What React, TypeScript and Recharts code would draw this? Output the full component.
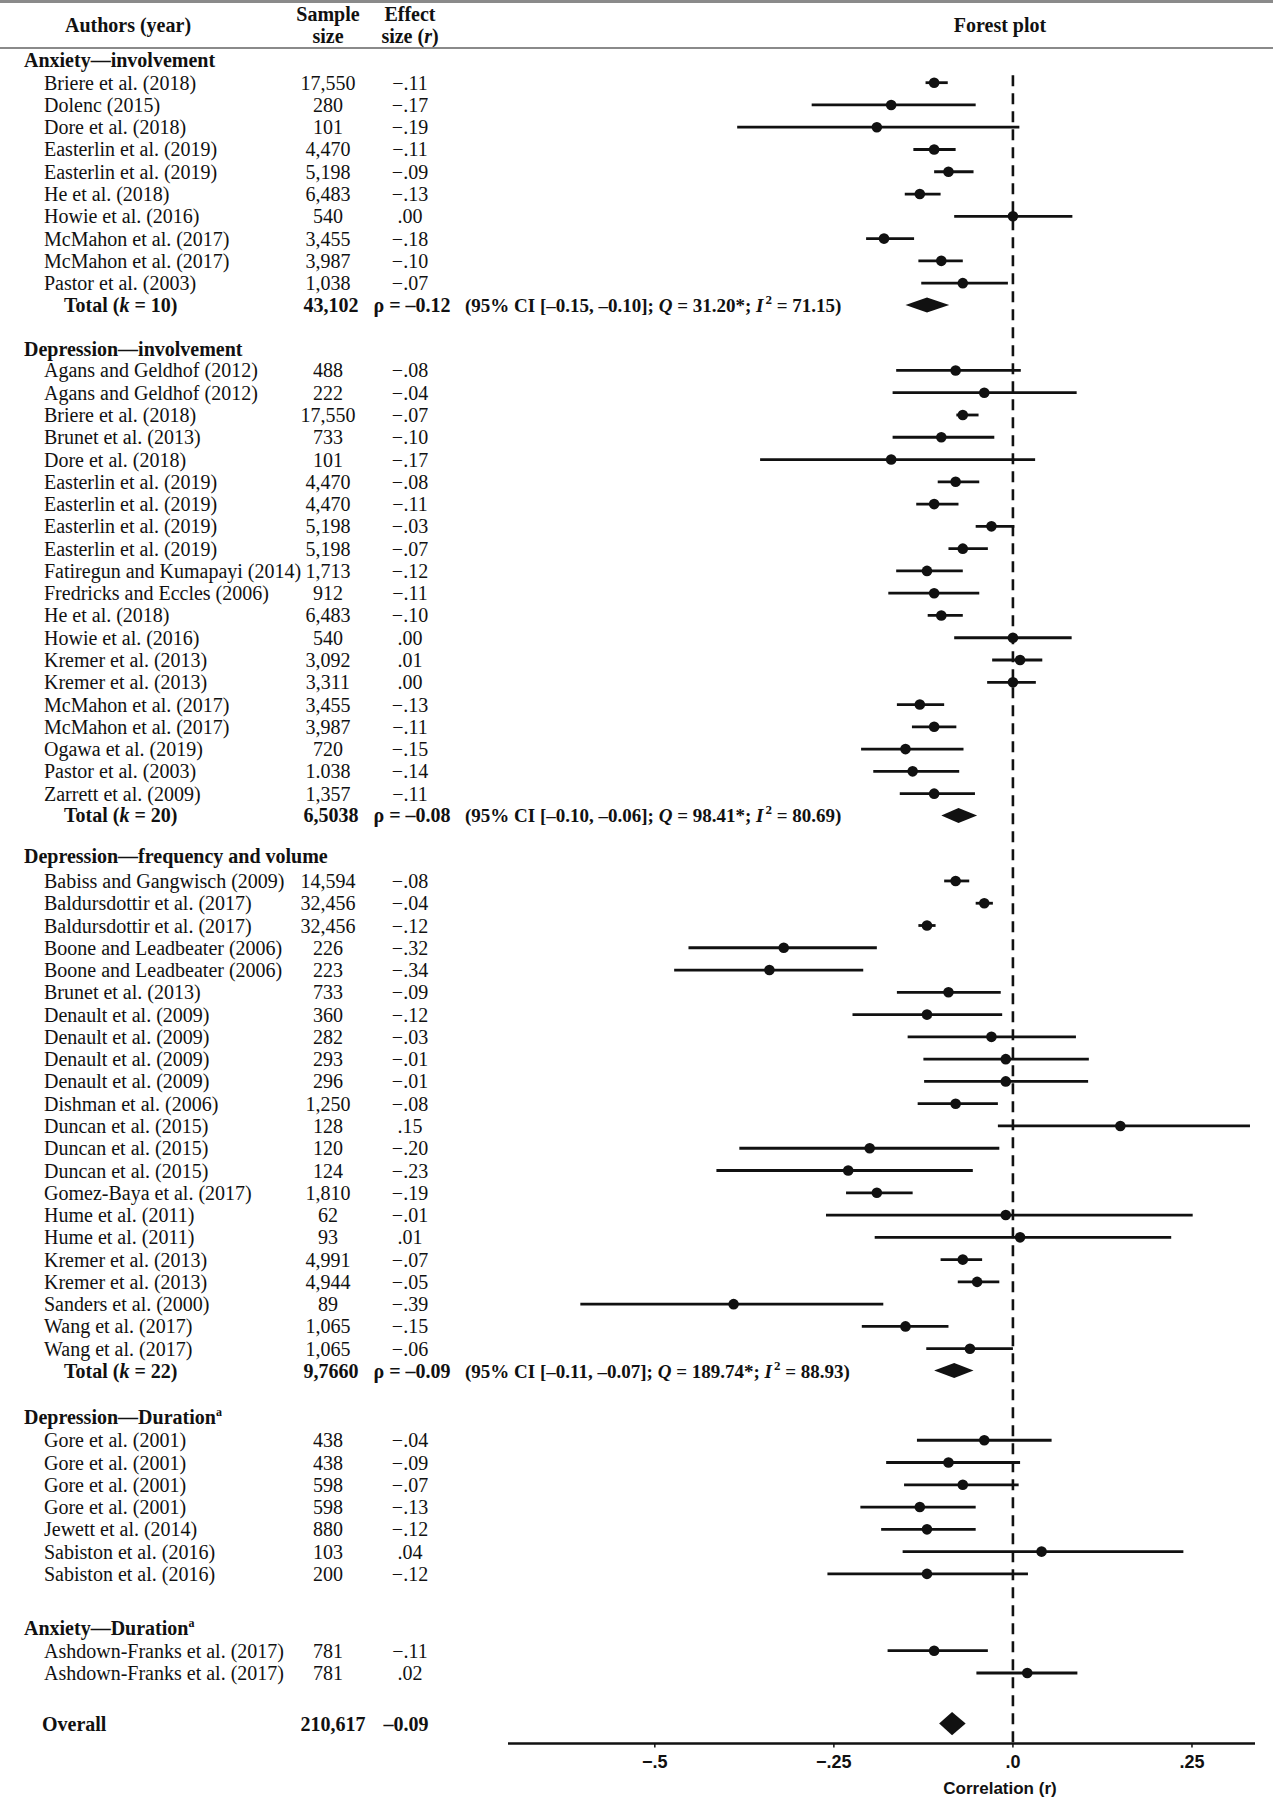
import React from 'react';
import { ComposedChart, XAxis, YAxis, Scatter, ErrorBar, Area, ReferenceLine } from 'recharts';

const SERIF = "'Liberation Serif', 'Times New Roman', serif";
const NARROW = "'Liberation Sans Narrow', 'Liberation Sans', Arial, sans-serif";
const INK = '#111';

// ---------------- DATA ----------------
// Anxiety — involvement
const AI_AUTHORS = ['Briere et al. (2018)', 'Dolenc (2015)', 'Dore et al. (2018)', 'Easterlin et al. (2019)', 'Easterlin et al. (2019)', 'He et al. (2018)', 'Howie et al. (2016)', 'McMahon et al. (2017)', 'McMahon et al. (2017)', 'Pastor et al. (2003)'];
const AI_N = ['17,550', '280', '101', '4,470', '5,198', '6,483', '540', '3,455', '3,987', '1,038'];
const AI_R = [-0.11, -0.17, -0.19, -0.11, -0.09, -0.13, 0.0, -0.18, -0.1, -0.07];
const AI_LO = [-0.122, -0.281, -0.385, -0.139, -0.11, -0.151, -0.082, -0.205, -0.132, -0.128];
const AI_HI = [-0.091, -0.052, 0.009, -0.08, -0.055, -0.101, 0.083, -0.138, -0.07, -0.007];

// Depression — involvement
const DI_AUTHORS = ['Agans and Geldhof (2012)', 'Agans and Geldhof (2012)', 'Briere et al. (2018)', 'Brunet et al. (2013)', 'Dore et al. (2018)', 'Easterlin et al. (2019)', 'Easterlin et al. (2019)', 'Easterlin et al. (2019)', 'Easterlin et al. (2019)', 'Fatiregun and Kumapayi (2014)', 'Fredricks and Eccles (2006)', 'He et al. (2018)', 'Howie et al. (2016)', 'Kremer et al. (2013)', 'Kremer et al. (2013)', 'McMahon et al. (2017)', 'McMahon et al. (2017)', 'Ogawa et al. (2019)', 'Pastor et al. (2003)', 'Zarrett et al. (2009)'];
const DI_N = ['488', '222', '17,550', '733', '101', '4,470', '4,470', '5,198', '5,198', '1,713', '912', '6,483', '540', '3,092', '3,311', '3,455', '3,987', '720', '1.038', '1,357'];
const DI_R = [-0.08, -0.04, -0.07, -0.1, -0.17, -0.08, -0.11, -0.03, -0.07, -0.12, -0.11, -0.1, 0.0, 0.01, 0.0, -0.13, -0.11, -0.15, -0.14, -0.11];
const DI_LO = [-0.163, -0.168, -0.079, -0.168, -0.353, -0.105, -0.135, -0.052, -0.09, -0.163, -0.174, -0.119, -0.082, -0.029, -0.036, -0.162, -0.141, -0.212, -0.195, -0.158];
const DI_HI = [0.011, 0.089, -0.048, -0.026, 0.031, -0.047, -0.076, 0.002, -0.035, -0.07, -0.047, -0.07, 0.082, 0.041, 0.032, -0.096, -0.079, -0.069, -0.075, -0.053];

// Depression — frequency and volume
const DF_AUTHORS = ['Babiss and Gangwisch (2009)', 'Baldursdottir et al. (2017)', 'Baldursdottir et al. (2017)', 'Boone and Leadbeater (2006)', 'Boone and Leadbeater (2006)', 'Brunet et al. (2013)', 'Denault et al. (2009)', 'Denault et al. (2009)', 'Denault et al. (2009)', 'Denault et al. (2009)', 'Dishman et al. (2006)', 'Duncan et al. (2015)', 'Duncan et al. (2015)', 'Duncan et al. (2015)', 'Gomez-Baya et al. (2017)', 'Hume et al. (2011)', 'Hume et al. (2011)', 'Kremer et al. (2013)', 'Kremer et al. (2013)', 'Sanders et al. (2000)', 'Wang et al. (2017)', 'Wang et al. (2017)'];
const DF_N = ['14,594', '32,456', '32,456', '226', '223', '733', '360', '282', '293', '296', '1,250', '128', '120', '124', '1,810', '62', '93', '4,991', '4,944', '89', '1,065', '1,065'];
const DF_R = [-0.08, -0.04, -0.12, -0.32, -0.34, -0.09, -0.12, -0.03, -0.01, -0.01, -0.08, 0.15, -0.2, -0.23, -0.19, -0.01, 0.01, -0.07, -0.05, -0.39, -0.15, -0.06];
const DF_LO = [-0.096, -0.052, -0.132, -0.453, -0.473, -0.162, -0.224, -0.147, -0.125, -0.124, -0.133, -0.021, -0.382, -0.414, -0.233, -0.261, -0.193, -0.101, -0.077, -0.604, -0.211, -0.121];
const DF_HI = [-0.061, -0.028, -0.108, -0.19, -0.209, -0.017, -0.015, 0.088, 0.106, 0.105, -0.021, 0.331, -0.019, -0.056, -0.14, 0.251, 0.221, -0.043, -0.019, -0.181, -0.09, 0.0];

// Depression — duration
const DD_AUTHORS = ['Gore et al. (2001)', 'Gore et al. (2001)', 'Gore et al. (2001)', 'Gore et al. (2001)', 'Jewett et al. (2014)', 'Sabiston et al. (2016)', 'Sabiston et al. (2016)'];
const DD_N = ['438', '438', '598', '598', '880', '103', '200'];
const DD_R = [-0.04, -0.09, -0.07, -0.13, -0.12, 0.04, -0.12];
const DD_LO = [-0.134, -0.177, -0.152, -0.213, -0.184, -0.154, -0.259];
const DD_HI = [0.054, 0.01, 0.008, -0.052, -0.052, 0.238, 0.021];

// Anxiety — duration
const AD_AUTHORS = ['Ashdown-Franks et al. (2017)', 'Ashdown-Franks et al. (2017)'];
const AD_N = ['781', '781'];
const AD_R = [-0.11, 0.02];
const AD_LO = [-0.175, -0.051];
const AD_HI = [-0.035, 0.09];

// Subgroup totals
const TOTAL_K = [10, 20, 22];
const TOTAL_N = ['43,102', '6,5038', '9,7660'];
const TOTAL_RHO = [-0.12, -0.08, -0.09];
const TOTAL_CI_LO = [-0.15, -0.1, -0.11];
const TOTAL_CI_HI = [-0.1, -0.06, -0.07];
const TOTAL_Q = ['31.20', '98.41', '189.74'];
const TOTAL_I2 = ['71.15', '80.69', '88.93'];
const DIAMOND_LO = [-0.15, -0.1, -0.11];
const DIAMOND_MID = [-0.12, -0.076, -0.082];
const DIAMOND_HI = [-0.089, -0.05, -0.055];

// Overall
const OVERALL_N = '210,617';
const OVERALL_R = -0.09;
const OVERALL_DIAMOND = [-0.103, -0.085, -0.066];

const X_TICKS = [-0.5, -0.25, 0, 0.25];
const X_TICK_LABELS = ['−.5', '−.25', '.0', '.25'];

// ---------------- LAYOUT (row units) ----------------
const SECTIONS = [
  { title: 'Anxiety—involvement', sup: '', authors: AI_AUTHORS, n: AI_N, r: AI_R, lo: AI_LO, hi: AI_HI, total: 0, gap: 0, drop: 1.03 },
  { title: 'Depression—involvement', sup: '', authors: DI_AUTHORS, n: DI_N, r: DI_R, lo: DI_LO, hi: DI_HI, total: 1, gap: 1.96, drop: 0.98 },
  { title: 'Depression—frequency and volume', sup: '', authors: DF_AUTHORS, n: DF_N, r: DF_R, lo: DF_LO, hi: DF_HI, total: 2, gap: 1.8, drop: 1.14 },
  { title: 'Depression—Duration', sup: 'a', authors: DD_AUTHORS, n: DD_N, r: DD_R, lo: DD_LO, hi: DD_HI, total: -1, gap: 2.1, drop: 1.03 },
  { title: 'Anxiety—Duration', sup: 'a', authors: AD_AUTHORS, n: AD_N, r: AD_R, lo: AD_LO, hi: AD_HI, total: -1, gap: 2.42, drop: 1.03 },
];
const OVERALL_GAP = 2.27;
const Y_DOMAIN: [number, number] = [-0.5, 75.6];
const TOTAL_HALF_H = 0.34;
const OVERALL_HALF_H = 0.52;

type Row = { kind: string; y: number; [k: string]: any };
const ROWS: Row[] = [];
const POINTS: any[] = [];
const DIAMONDS: { key: string; data: any[] }[] = [];

(() => {
  let cur = 0;
  SECTIONS.forEach((s, si) => {
    const hy = si === 0 ? 0 : cur + s.gap;
    ROWS.push({ kind: 'heading', y: hy, title: s.title, sup: s.sup });
    let y = hy + s.drop;
    s.authors.forEach((a, i) => {
      ROWS.push({ kind: 'study', y, author: a, n: s.n[i], r: s.r[i] });
      POINTS.push({ x: s.r[i], y, err: [Math.max(0, s.r[i] - s.lo[i]), Math.max(0, s.hi[i] - s.r[i])] });
      cur = y;
      y += 1;
    });
    if (s.total >= 0) {
      const t = s.total;
      const ty = cur + 0.98;
      ROWS.push({ kind: 'total', y: ty, k: TOTAL_K[t], n: TOTAL_N[t], rho: TOTAL_RHO[t], lo: TOTAL_CI_LO[t], hi: TOTAL_CI_HI[t], q: TOTAL_Q[t], i2: TOTAL_I2[t] });
      DIAMONDS.push({
        key: 'd' + t,
        data: [
          { x: DIAMOND_LO[t], band: [ty, ty] },
          { x: DIAMOND_MID[t], band: [ty - TOTAL_HALF_H, ty + TOTAL_HALF_H] },
          { x: DIAMOND_HI[t], band: [ty, ty] },
        ],
      });
      cur = ty;
    }
  });
  const oy = cur + OVERALL_GAP;
  ROWS.push({ kind: 'overall', y: oy, n: OVERALL_N, r: OVERALL_R });
  DIAMONDS.push({
    key: 'overall',
    data: [
      { x: OVERALL_DIAMOND[0], band: [oy, oy] },
      { x: OVERALL_DIAMOND[1], band: [oy - OVERALL_HALF_H, oy + OVERALL_HALF_H] },
      { x: OVERALL_DIAMOND[2], band: [oy, oy] },
    ],
  });
})();

const ROW_TICKS = ROWS.map((r) => r.y);

const fmtR = (v: number) => {
  const s = Math.abs(v).toFixed(2).slice(1);
  return v < 0 ? '−' + s : s;
};
const fmt2 = (v: number) => (v < 0 ? '–' : '') + Math.abs(v).toFixed(2);

// column positions (px)
const COL_HEAD = 24;
const COL_AUTHOR = 44;
const COL_TOTAL = 64;
const COL_OVERALL = 42;
const COL_N = 328;
const COL_N_BOLD = 331;
const COL_R = 410;
const COL_STATS = 465;
const FS = 20;

const RowTick = (props: any) => {
  const v = props.payload?.value;
  const row = ROWS.find((r) => Math.abs(r.y - v) < 1e-6);
  if (!row) return null;
  const y = props.y + 7;
  const common = { fontFamily: SERIF, fontSize: FS, fill: INK };
  if (row.kind === 'heading') {
    return (
      <text x={COL_HEAD} y={y} {...common} fontWeight="bold">
        {row.title}
        {row.sup ? (
          <tspan dy={-8} fontSize={12}>
            {row.sup}
          </tspan>
        ) : null}
      </text>
    );
  }
  if (row.kind === 'study') {
    return (
      <g>
        <text x={COL_AUTHOR} y={y} {...common}>{row.author}</text>
        <text x={COL_N} y={y} {...common} textAnchor="middle">{row.n}</text>
        <text x={COL_R} y={y} {...common} textAnchor="middle">{fmtR(row.r)}</text>
      </g>
    );
  }
  if (row.kind === 'total') {
    return (
      <g>
        <text x={COL_TOTAL} y={y} {...common} fontWeight="bold">
          {'Total ('}
          <tspan fontStyle="italic">k</tspan>
          {' = ' + row.k + ')'}
        </text>
        <text x={COL_N_BOLD} y={y} {...common} fontWeight="bold" textAnchor="middle">{row.n}</text>
        <text x={COL_R + 2} y={y} {...common} fontWeight="bold" textAnchor="middle">{'ρ = ' + fmt2(row.rho)}</text>
        <text x={COL_STATS} y={y} fontFamily={SERIF} fontSize={19} fill={INK} fontWeight="bold">
          {'(95% CI [' + fmt2(row.lo) + ', ' + fmt2(row.hi) + ']; '}
          <tspan fontStyle="italic">Q</tspan>
          {' = ' + row.q + '*; '}
          <tspan fontStyle="italic">I</tspan>
          <tspan dx={2} dy={-8} fontSize={13}>2</tspan>
          <tspan dy={8}>{' = ' + row.i2 + ')'}</tspan>
        </text>
      </g>
    );
  }
  return (
    <g>
      <text x={COL_OVERALL} y={y} {...common} fontWeight="bold">Overall</text>
      <text x={COL_N_BOLD + 2} y={y} {...common} fontWeight="bold" textAnchor="middle">{row.n}</text>
      <text x={COL_R - 4} y={y} {...common} fontWeight="bold" textAnchor="middle">{fmt2(row.r)}</text>
    </g>
  );
};

const XTick = (props: any) => {
  const i = X_TICKS.indexOf(props.payload?.value);
  return (
    <text x={props.x} y={props.y + 18} textAnchor="middle" fontFamily={NARROW} fontWeight="bold" fontSize={18} fill={INK}>
      {i >= 0 ? X_TICK_LABELS[i] : ''}
    </text>
  );
};

const Dot = (p: any) => <circle cx={p.cx} cy={p.cy} r={5.3} fill={INK} />;

const Header = () => (
  <svg width={1273} height={60} style={{ position: 'absolute', left: 0, top: 0, pointerEvents: 'none' }}>
    <line x1={0} x2={1273} y1={1.5} y2={1.5} stroke="#8a8a8a" strokeWidth={3} />
    <line x1={0} x2={1273} y1={48} y2={48} stroke="#8a8a8a" strokeWidth={2} />
    <g fontFamily={SERIF} fontSize={FS} fontWeight="bold" fill={INK} textAnchor="middle">
      <text x={128} y={32}>Authors (year)</text>
      <text x={328} y={21}>Sample</text>
      <text x={328} y={43}>size</text>
      <text x={410} y={21}>Effect</text>
      <text x={410} y={43}>
        {'size ('}
        <tspan fontStyle="italic">r</tspan>
        {')'}
      </text>
      <text x={1000} y={32}>Forest plot</text>
    </g>
  </svg>
);

export default function App() {
  return (
    <div style={{ position: 'absolute', left: 0, top: 0, width: 1273, height: 1800, background: '#fff' }}>
      <ComposedChart width={1273} height={1800} margin={{ top: 48.6, right: 18, bottom: 0, left: 0 }}>
        <XAxis
          type="number"
          dataKey="x"
          domain={[-0.705, 0.338]}
          allowDataOverflow
          ticks={X_TICKS}
          interval={0}
          tick={<XTick />}
          tickSize={4}
          tickLine={{ stroke: INK, strokeWidth: 1.5 }}
          axisLine={{ stroke: INK, strokeWidth: 2.5 }}
          height={56.4}
        />
        <YAxis
          type="number"
          dataKey="y"
          domain={Y_DOMAIN}
          reversed
          allowDataOverflow
          ticks={ROW_TICKS}
          interval={0}
          tick={<RowTick />}
          axisLine={false}
          tickLine={false}
          width={508}
        />
        <ReferenceLine
          segment={[{ x: 0, y: 0.7 }, { x: 0, y: Y_DOMAIN[1] }]}
          stroke={INK}
          strokeWidth={2.6}
          strokeDasharray="11 7"
        />
        {DIAMONDS.map((d) => (
          <Area
            key={d.key}
            data={d.data}
            dataKey="band"
            type="linear"
            stroke="none"
            fill={INK}
            fillOpacity={1}
            dot={false}
            activeDot={false}
            isAnimationActive={false}
          />
        ))}
        <Scatter data={POINTS} shape={<Dot />} isAnimationActive={false}>
          <ErrorBar dataKey="err" direction="x" width={0} stroke={INK} strokeWidth={2.8} isAnimationActive={false} />
        </Scatter>
      </ComposedChart>
      <Header />
      <svg width={1273} height={1800} style={{ position: 'absolute', left: 0, top: 0, pointerEvents: 'none' }}>
        <text x={1000} y={1794} textAnchor="middle" fontFamily={NARROW} fontSize={17} fontWeight="bold" fill={INK}>
          Correlation (r)
        </text>
      </svg>
    </div>
  );
}
